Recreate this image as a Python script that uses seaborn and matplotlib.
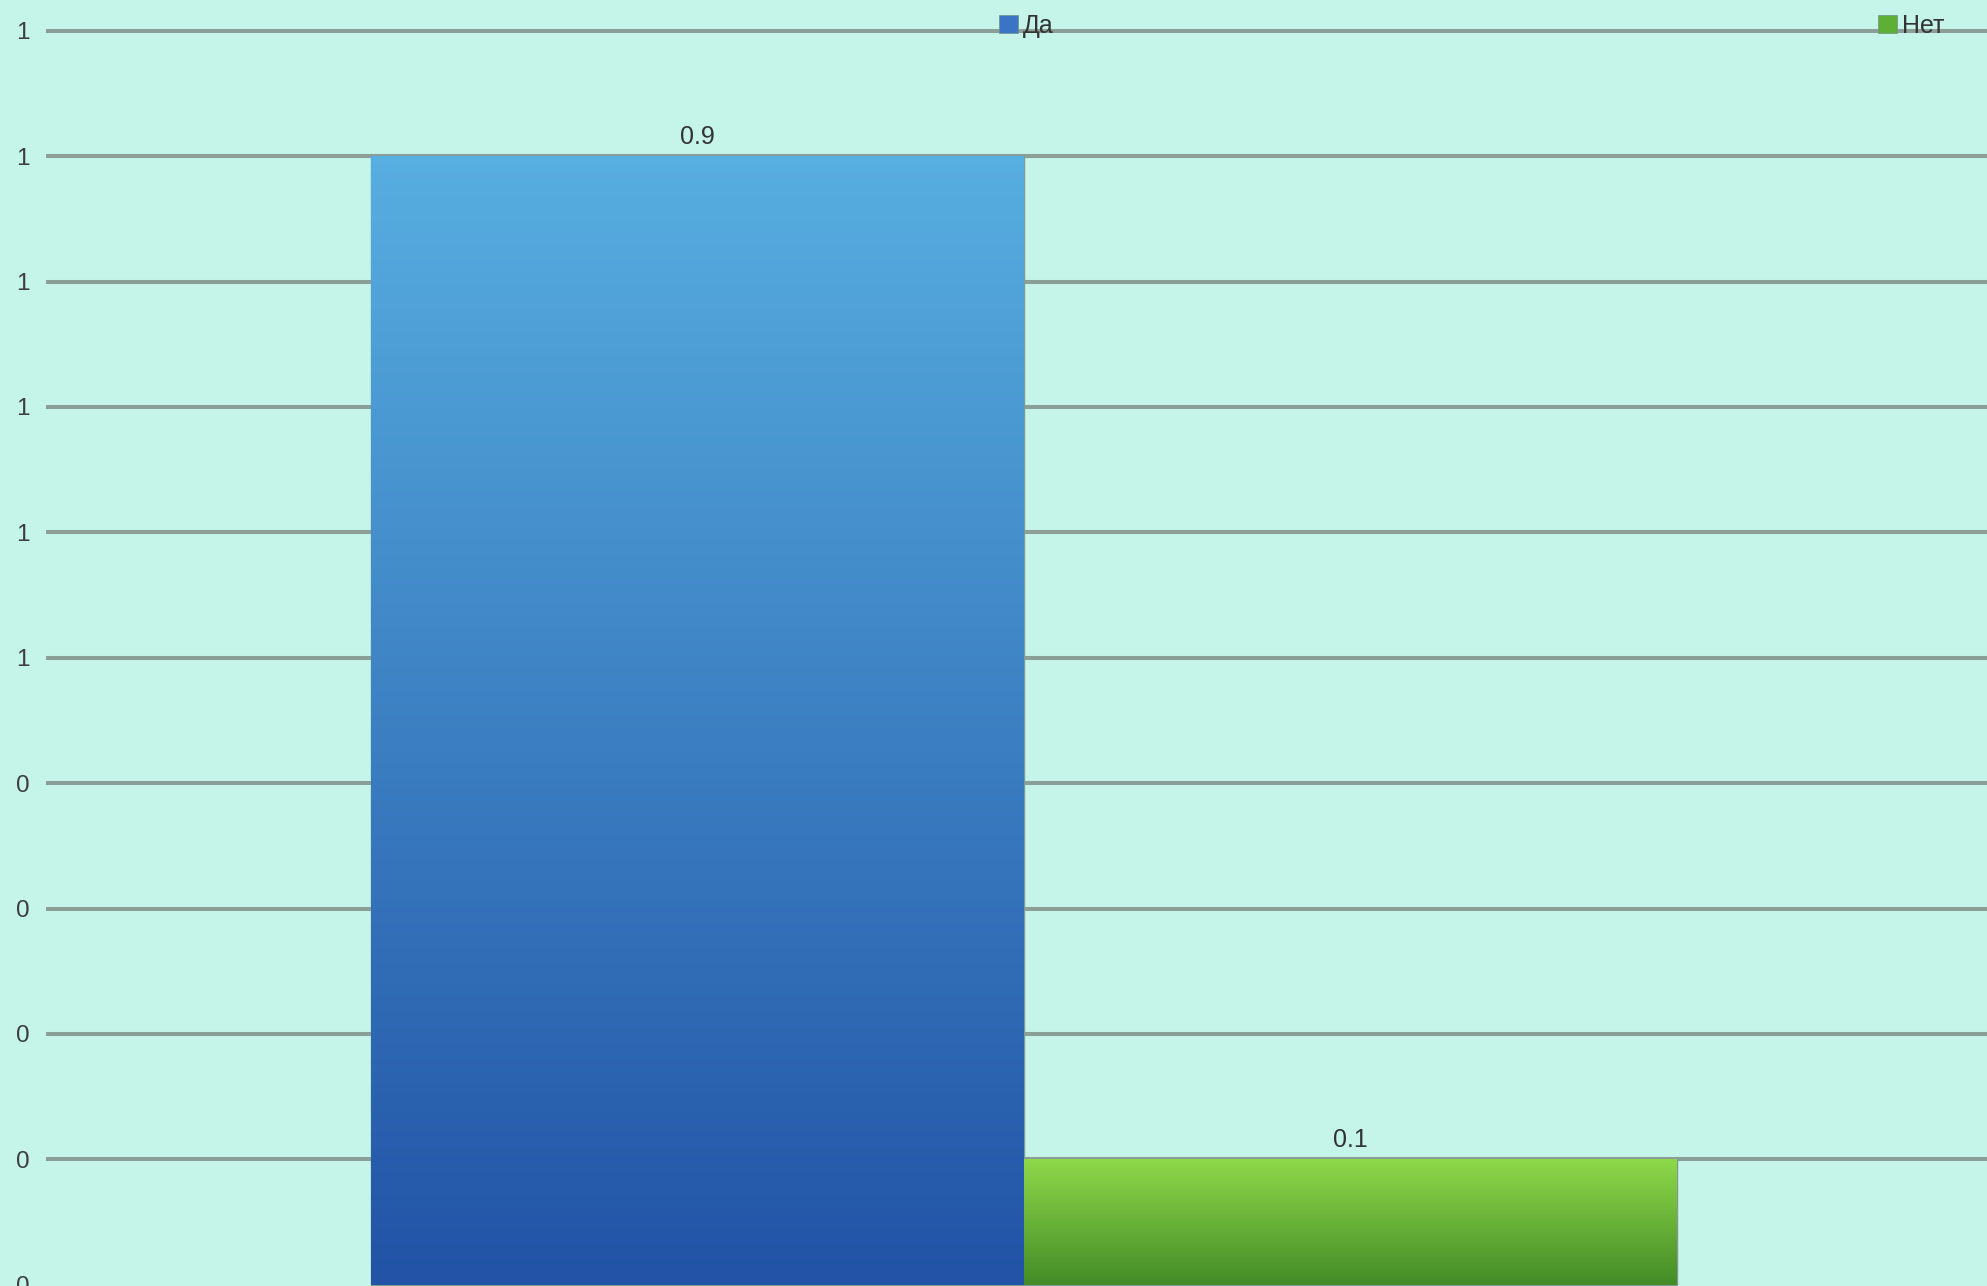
import numpy as np
import pandas as pd
import matplotlib
matplotlib.use("Agg")
import matplotlib.pyplot as plt
import seaborn as sns
from matplotlib.colors import LinearSegmentedColormap
from matplotlib.patches import Patch

# ---- data ----
options = ["Да", "Нет"]
shares = [0.9, 0.1]
value_labels = ["0.9", "0.1"]
y_ticks = [0.0, 0.1, 0.2, 0.3, 0.4, 0.5, 0.6, 0.7, 0.8, 0.9, 1.0]
y_tick_labels = ["0", "0", "0", "0", "0", "1", "1", "1", "1", "1", "1"]

# gradient colours (top, bottom)
grad_colors = {"Да": ("#57AEE0", "#2253A6"), "Нет": ("#8ED84A", "#448C27")}
legend_colors = {"Да": "#3B74C4", "Нет": "#5DAF35"}
bg = "#C5F4E9"
grid_col = "#8C9E98"
text_col = "#333333"

df = pd.DataFrame({"option": options, "share": shares})

sns.set_theme(style="white")
plt.rcParams["font.family"] = ["Liberation Sans", "DejaVu Sans"]

W, H = 1987, 1286
fig = plt.figure(figsize=(W / 100, H / 100), dpi=100)
fig.patch.set_facecolor(bg)
ax = fig.add_axes([46 / W, 0.0, 1 - 46 / W, 1.0])
ax.set_facecolor(bg)

palette = {k: grad_colors[k][0] for k in options}
sns.barplot(data=df, x="option", y="share", hue="option", palette=palette,
            width=1.0, dodge=False, legend=False, ax=ax,
            edgecolor="#7f9a95", linewidth=1.0, zorder=3)

# bar unit = 653 px, bar 0 center at 697.5 px
unit = 653.0
x0 = 697.5
xlim = (-(x0 - 46) / unit, (W - x0) / unit)
ylim = (-0.001, 1.0245)

ax.set_yticks(y_ticks)
ax.set_yticklabels(y_tick_labels)
ax.tick_params(axis="y", length=0, pad=11.5, labelsize=17.5, labelcolor="#3d3d3d")
ax.set_xticks([])
ax.set_xlabel("")
ax.set_ylabel("")
for s in ax.spines.values():
    s.set_visible(False)
ax.yaxis.grid(True, color=grid_col, linewidth=2.9)
ax.set_axisbelow(True)

# gradient fill clipped to each bar
for i, (patch, opt) in enumerate(zip(ax.patches, options)):
    x, y = patch.get_x(), patch.get_y()
    w, h = patch.get_width(), patch.get_height()
    cmap = LinearSegmentedColormap.from_list(opt, [grad_colors[opt][1], grad_colors[opt][0]])
    grad = np.linspace(0, 1, 256).reshape(-1, 1)
    im = ax.imshow(grad, extent=[x, x + w, y, y + h], origin="lower", aspect="auto",
                   cmap=cmap, zorder=3.5, interpolation="bicubic")
    im.set_clip_path(patch)
    ax.text(x + w / 2, y + h + 0.006, value_labels[i],
            ha="center", va="bottom", fontsize=18, color=text_col, zorder=5)

ax.set_xlim(*xlim)
ax.set_ylim(*ylim)

# the zero gridline lies just below the figure edge in the reference
fig.canvas.draw()
for tick in ax.yaxis.get_major_ticks():
    if abs(tick.get_loc()) < 1e-9:
        tick.gridline.set_visible(False)

# legend: two entries placed apart, as in the reference
legend_x = {"Да": 999, "Нет": 1878}
for k, h in zip(options, [Patch(facecolor=legend_colors[k], edgecolor="#6f8f8a", linewidth=0.5)
                          for k in options]):
    leg = fig.legend([h], [k], loc="center left", bbox_to_anchor=(legend_x[k] / W, 1 - 26 / H),
                     frameon=False, fontsize=18, handlelength=0.75, handleheight=0.75,
                     handletextpad=0.2, borderpad=0, borderaxespad=0)
    for t in leg.get_texts():
        t.set_color(text_col)

fig.savefig("out.png", dpi=100, facecolor=bg)
